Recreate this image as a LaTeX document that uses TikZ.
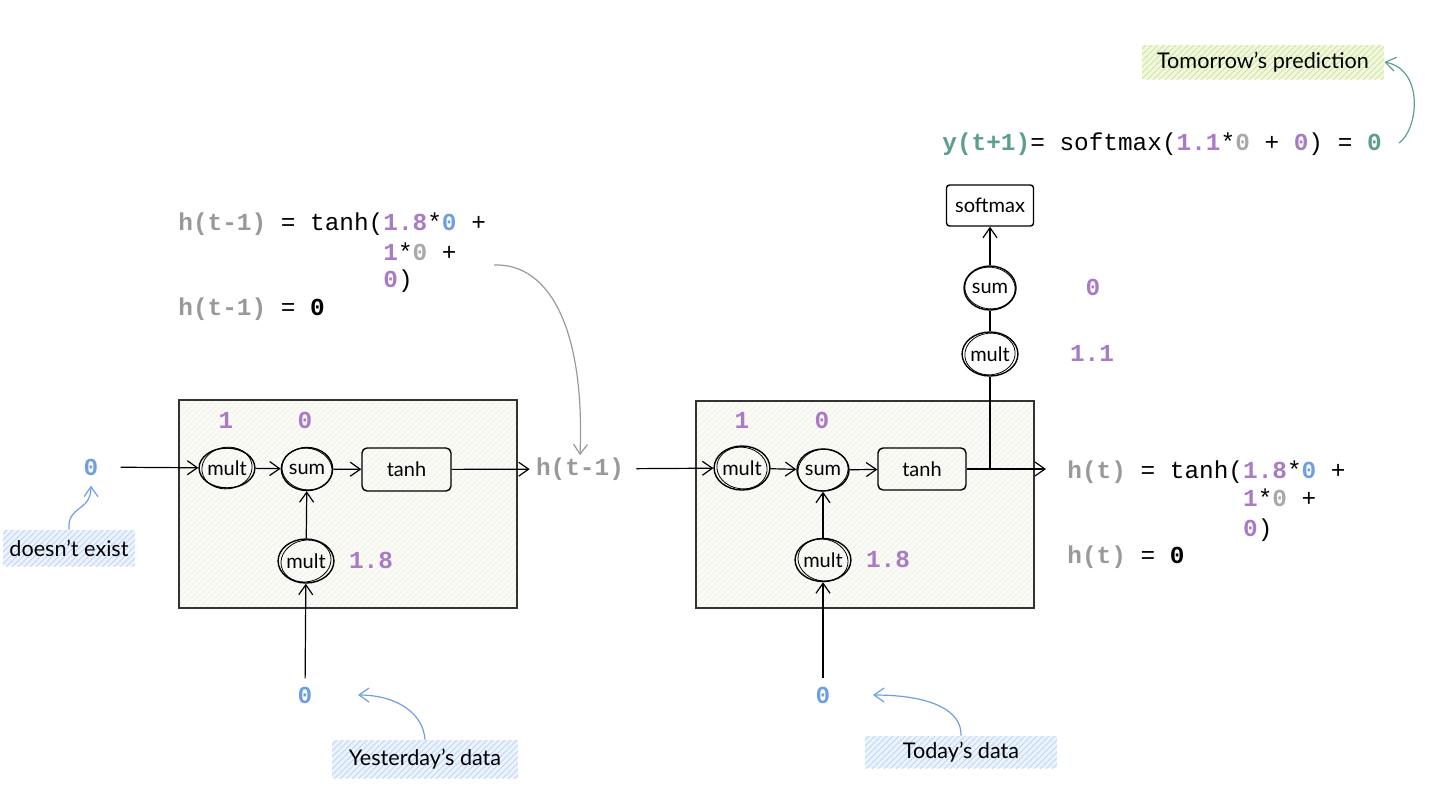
\documentclass[tikz,border=0pt]{standalone}
\usepackage{fontspec}
\setmainfont{Lato}
\setmonofont{Liberation Mono}
\usetikzlibrary{arrows.meta,patterns,shapes.geometric}
\definecolor{pur}{HTML}{A97BC6}
\definecolor{blu}{HTML}{6E9FE2}
\definecolor{gry}{HTML}{999999}
\definecolor{tea}{HTML}{5C9F8F}
\definecolor{boxfill}{HTML}{FBFBF3}
\definecolor{hatchb}{HTML}{BFD7F4}
\definecolor{hatchg}{HTML}{CFE69A}
\newcommand\mpur[1]{\textbf{\textcolor{pur}{#1}}}
\newcommand\mblu[1]{\textbf{\textcolor{blu}{#1}}}
\newcommand\mgry[1]{\textbf{\textcolor{gry!85}{#1}}}
\newcommand\mgryb[1]{\textbf{\textcolor{gry}{#1}}}
\newcommand\mtea[1]{\textbf{\textcolor{tea}{#1}}}
\newcommand\mblk[1]{\textbf{#1}}
\begin{document}
\begin{tikzpicture}[x=0.5pt,y=-0.5pt,
  tip/.style={-{Straight Barb[length=5pt,width=7pt]}},
  arr/.style={draw=black,line width=0.6pt,tip},
  ln/.style={draw=black,line width=0.6pt},
  op/.style={ellipse,draw=black,line width=0.7pt,inner sep=0pt,font=\fontsize{10}{11}\selectfont},
  ring/.style={draw=black,line width=0.4pt},
  rbox/.style={rectangle,draw=black,line width=0.7pt,rounded corners=2.5pt,inner sep=0pt,font=\fontsize{10}{11}\selectfont},
  cell/.style={draw=black!80,line width=0.6pt,preaction={fill=boxfill},pattern=north east lines,pattern color=black!5},
  mono/.style={font=\fontsize{12.2}{14}\ttfamily,inner sep=1pt,anchor=base west},
  num/.style={font=\fontsize{12.2}{14}\ttfamily\bfseries,inner sep=1pt},
  note/.style={rectangle,inner sep=0pt,font=\fontsize{10.8}{12}\selectfont,preaction={fill=#1!30},pattern=north east lines,pattern color=#1},
]
\useasboundingbox (0,0) rectangle (1440,789);

% cells
\draw[cell] (179,400) rectangle (517,608);
\draw[cell] (696,401) rectangle (1034,608);

% left cell
\node[num,text=blu] (in0) at (91,467) {0};
\node[op,minimum width=25pt,minimum height=20pt] (m1) at (227,468) {mult};
\node[op,minimum width=25.5pt,minimum height=21.5pt] (s1) at (307,469) {sum};
\node[rbox,minimum width=44.5pt,minimum height=21.5pt] (t1) at (406.5,469.5) {tanh};
\node[op,minimum width=26pt,minimum height=22pt] (mb1) at (306,561) {mult};
\node[num,text=pur] (w1a) at (226,420) {1};
\node[num,text=pur] (w1b) at (305,420) {0};
\node[num,text=pur] (w1c) at (371,560) {1.8};
\node[num,text=blu] (x1) at (305,695) {0};
\node[num,text=gry] (hp) at (580,469) {h(t-1)};

% right cell
\node[op,minimum width=25.5pt,minimum height=22pt] (m2) at (742,468) {mult};
\node[op,minimum width=26pt,minimum height=21pt] (s2) at (823,470) {sum};
\node[rbox,minimum width=44pt,minimum height=21pt] (t2) at (922,469) {tanh};
\node[op,minimum width=25pt,minimum height=21.5pt] (mb2) at (823,560) {mult};
\node[num,text=pur] (w2a) at (742,420) {1};
\node[num,text=pur] (w2b) at (822,420) {0};
\node[num,text=pur] (w2c) at (888,559) {1.8};
\node[num,text=blu] (x2) at (823,695) {0};
\coordinate (out) at (1046,469);
\coordinate (jn) at (990,469);

% output column
\node[op,minimum width=25pt,minimum height=22pt] (m3) at (990,354) {mult};
\node[op,minimum width=26pt,minimum height=22pt] (s3) at (990,288) {sum};
\node[rbox,rounded corners=1.5pt,minimum width=43.5pt,minimum height=20.5pt] (sm) at (990,205.5) {softmax};
\node[num,text=pur] (w3a) at (1093,287) {0};
\node[num,text=pur] (w3b) at (1092,353) {1.1};

% sketchy second outlines
\foreach \n/\a in {m1/8,s1/-10,mb1/12,m2/-8,s2/10,mb2/-12,m3/6,s3/-6}{
  \draw[ring] (\n.center) ellipse [x radius=12.6pt,y radius=10.4pt,rotate=\a];
}

% formula h(t-1)
\node[mono] (fa1) at (176,230) {\mgryb{h(t-1)} = tanh(\mpur{1.8}*\mblu{0} +};
\node[mono] (fa2) at (176,260) {\phantom{h(t-1) = tanh(}\mpur{1}*\mgry{0} +};
\node[mono] (fa3) at (176,287) {\phantom{h(t-1) = tanh(}\mpur{0})};
\node[mono] (fa4) at (176,315) {\mgryb{h(t-1)} = \mblk{0}};
\coordinate (cA) at (494,265);

% formula h(t)
\node[mono] (fb1) at (1065,478) {\mgryb{h(t)} = tanh(\mpur{1.8}*\mblu{0} +};
\node[mono] (fb2) at (1065,506) {\phantom{h(t) = tanh(}\mpur{1}*\mgry{0} +};
\node[mono] (fb3) at (1065,536) {\phantom{h(t) = tanh(}\mpur{0})};
\node[mono] (fb4) at (1065,563) {\mgryb{h(t)} = \mblk{0}};

% formula y(t+1)
\node[mono] (fy) at (940,150) {\mtea{y(t+1)}= softmax(\mpur{1.1}*\mgry{0} + \mpur{0}) = \mtea{0}};
\coordinate (tS) at (1399,143);

% notes
\node[note=hatchg,minimum width=121pt,minimum height=17pt] (tp) at (1263,62) {Tomorrow’s prediction};
\node[note=hatchb,minimum width=66pt,minimum height=18pt] (de) at (69,548) {doesn’t exist};
\node[note=hatchb,minimum width=93pt,minimum height=19pt] (yd) at (425,759) {Yesterday’s data};
\node[note=hatchb,minimum width=96pt,minimum height=16pt] (td) at (961,752) {Today’s data};
\coordinate (yE) at (358,695);
\coordinate (tE) at (873,695);

% connectors left
\draw[arr,shorten <=10pt] (in0) -- (m1);
\draw[arr] (m1) -- (s1);
\draw[arr] (s1) -- (t1);
\draw[arr] (mb1) -- (s1);
\draw[arr,shorten <=3pt] (x1) -- (mb1);
\draw[arr,shorten >=2pt] (t1) -- (hp);

% connectors right
\draw[arr,shorten <=5pt] (hp) -- (m2);
\draw[arr] (m2) -- (s2);
\draw[arr] (s2) -- (t2);
\draw[arr] (mb2) -- (s2);
\draw[arr,shorten <=3pt] (x2) -- (mb2);
\draw[arr] (t2) -- (out);
\draw[ln] (jn) -- (m3);
\draw[ln] (m3) -- (s3);
\draw[arr] (s3) -- (sm);

% curved annotations
\draw[gry,line width=0.6pt,tip] (cA) .. controls (550,263) and (585,330) .. (hp.north);
\draw[tea,line width=0.6pt,tip] (tS) .. controls (1418,130) and (1425,70) .. (tp.east);
\draw[blu,line width=0.6pt,tip,shorten >=4pt] (de.north) .. controls (67,505) and (91,512) .. (in0.south);
\draw[blu,line width=0.6pt,tip] (yd.north) .. controls (423,712) and (395,695) .. (yE);
\draw[blu,line width=0.6pt,tip] (td.north) .. controls (962,710) and (930,695) .. (tE);
\end{tikzpicture}
\end{document}
